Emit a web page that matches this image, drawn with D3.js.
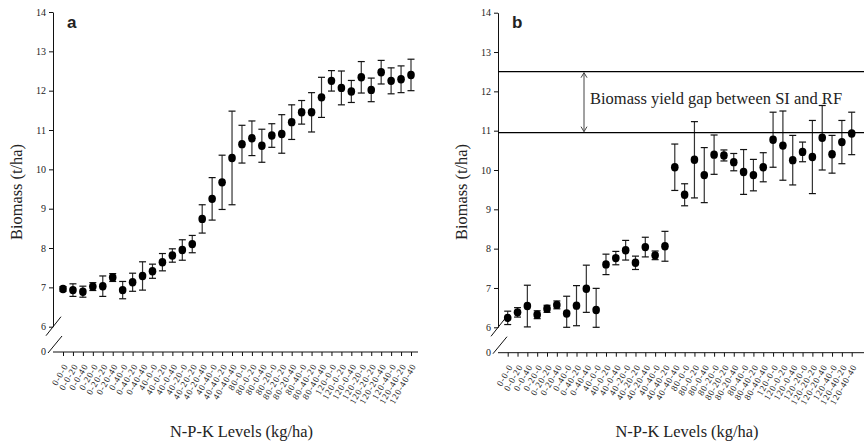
<!DOCTYPE html>
<html>
<head>
<meta charset="utf-8">
<script src="https://cdn.jsdelivr.net/npm/d3@7"></script>
<style>
  body { margin: 0; background: #fff; }
  svg { display: block; }
  text { font-family: "Liberation Serif", "Times New Roman", serif; fill: #222; }
</style>
</head>
<body>
<div id="chart"></div>
<script>
const CATEGORIES = ['0-0-0','0-0-20','0-0-40','0-20-0','0-20-20','0-20-40','0-40-0','0-40-20','0-40-40',
  '40-0-0','40-0-20','40-0-40','40-20-0','40-20-20','40-20-40','40-40-0','40-40-20','40-40-40',
  '80-0-0','80-0-20','80-0-40','80-20-0','80-20-20','80-20-40','80-40-0','80-40-20','80-40-40',
  '120-0-0','120-0-20','120-0-40','120-20-0','120-20-20','120-20-40','120-40-0','120-40-20','120-40-40'];

// panel a (means and error)
const biomassA = [6.96, 6.93, 6.89, 7.02, 7.03, 7.25, 6.93, 7.13, 7.29,
  7.41, 7.64, 7.81, 7.95, 8.10, 8.74, 9.25, 9.67, 10.29,
  10.64, 10.79, 10.60, 10.86, 10.90, 11.20, 11.45, 11.45, 11.83,
  12.25, 12.07, 11.98, 12.34, 12.02, 12.47, 12.25, 12.29, 12.40];
const errA = [0.06, 0.16, 0.14, 0.10, 0.26, 0.10, 0.22, 0.23, 0.36,
  0.18, 0.22, 0.17, 0.26, 0.22, 0.36, 0.54, 0.69, 1.19,
  0.48, 0.44, 0.42, 0.30, 0.49, 0.44, 0.30, 0.50, 0.51,
  0.26, 0.43, 0.28, 0.40, 0.30, 0.30, 0.33, 0.34, 0.40];

// panel b
const biomassB = [6.24, 6.38, 6.54, 6.32, 6.47, 6.57, 6.35, 6.55, 6.98,
  6.44, 7.60, 7.76, 7.96, 7.64, 8.04, 7.83, 8.06, 10.07,
  9.37, 10.26, 9.87, 10.39, 10.37, 10.20, 9.95, 9.87, 10.07,
  10.77, 10.62, 10.25, 10.46, 10.33, 10.82, 10.40, 10.71, 10.93];
const errB = [0.17, 0.12, 0.53, 0.10, 0.09, 0.10, 0.44, 0.51, 0.60,
  0.55, 0.26, 0.17, 0.25, 0.17, 0.25, 0.11, 0.38, 0.59,
  0.28, 0.97, 0.70, 0.50, 0.14, 0.22, 0.57, 0.40, 0.37,
  0.70, 0.88, 0.63, 0.25, 0.93, 0.82, 0.48, 0.55, 0.54];

const Y_TICKS = [6, 7, 8, 9, 10, 11, 12, 13, 14];
const GAP_LINES = [12.5, 10.95];   // SI and RF reference levels in panel b
const GAP_LABEL = 'Biomass yield gap between SI and RF';

const SERIF = '"Liberation Serif", "Times New Roman", serif';

var svg = d3.select('#chart').append('svg')
  .attr('width', 864)
  .attr('height', 443);

function drawPanel(p) {
  var g = svg.append('g');

  var y = d3.scaleLinear().domain([6, 14]).range([p.y6, p.y14]);
  var x = d3.scalePoint().domain(CATEGORIES).range([p.x0, p.x1]);

  // y axis (broken at 6)
  var yAxis = g.append('g')
    .attr('transform', 'translate(' + p.axisX + ',0)')
    .call(d3.axisLeft(y).tickValues(Y_TICKS).tickSize(4).tickSizeOuter(0).tickPadding(3));
  yAxis.select('.domain').attr('stroke', '#111');
  yAxis.selectAll('.tick line').attr('stroke', '#111');
  yAxis.selectAll('.tick text')
    .style('font-family', SERIF)
    .style('font-size', '10px')
    .attr('fill', '#333');

  // zero label and break marks
  g.append('text')
    .attr('x', p.axisX - 7)
    .attr('y', p.baseY)
    .attr('dy', '0.32em')
    .attr('text-anchor', 'end')
    .style('font-family', SERIF)
    .style('font-size', '10px')
    .attr('fill', '#333')
    .text('0');
  g.append('line')
    .attr('x1', p.axisX - 7).attr('y1', y(6) + 9)
    .attr('x2', p.axisX + 8).attr('y2', y(6) - 10)
    .attr('stroke', '#111');
  g.append('line')
    .attr('x1', p.axisX - 5).attr('y1', p.baseY + 1)
    .attr('x2', p.axisX + 9).attr('y2', p.baseY - 16)
    .attr('stroke', '#111');

  // x axis
  g.append('line')
    .attr('x1', p.axisX).attr('x2', p.axisEnd)
    .attr('y1', p.baseY).attr('y2', p.baseY)
    .attr('stroke', '#111');
  var xAxis = g.append('g')
    .attr('transform', 'translate(0,' + p.baseY + ')')
    .call(d3.axisBottom(x).tickSize(4).tickSizeOuter(0));
  xAxis.select('.domain').remove();
  xAxis.selectAll('.tick line').attr('stroke', '#111');
  xAxis.selectAll('.tick text')
    .style('font-family', SERIF)
    .style('font-size', '9px')
    .style('letter-spacing', '0.8px')
    .attr('fill', '#444')
    .attr('text-anchor', 'end')
    .attr('y', 0)
    .attr('dy', 0)
    .attr('transform', 'translate(5,14) rotate(-60)');

  // titles
  g.append('text')
    .attr('x', (p.axisX + p.axisEnd) / 2 + 6)
    .attr('y', 437)
    .attr('text-anchor', 'middle')
    .style('font-family', SERIF)
    .style('font-size', '16.4px')
    .text('N-P-K Levels (kg/ha)');
  g.append('text')
    .attr('transform', 'translate(' + (p.axisX - 31) + ',' + 192 + ') rotate(-90)')
    .attr('text-anchor', 'middle')
    .style('font-family', SERIF)
    .style('font-size', '16.4px')
    .text('Biomass (t/ha)');
  g.append('text')
    .attr('x', p.axisX + 14)
    .attr('y', 28)
    .style('font-family', 'Arial, "Liberation Sans", sans-serif')
    .style('font-weight', 'bold')
    .style('font-size', '17px')
    .attr('fill', '#000')
    .text(p.label);

  // error bars
  var data = p.mean.map(function(m, i) { return {cat: CATEGORIES[i], m: m, e: p.err[i]}; });
  var bars = g.selectAll('.eb').data(data).enter().append('g');
  bars.append('line')
    .attr('x1', function(d) { return x(d.cat); })
    .attr('x2', function(d) { return x(d.cat); })
    .attr('y1', function(d) { return y(d.m + d.e); })
    .attr('y2', function(d) { return y(Math.max(d.m - d.e, 6)); })
    .attr('stroke', '#333').attr('stroke-width', 1.2);
  bars.append('line')
    .attr('x1', function(d) { return x(d.cat) - 3.5; })
    .attr('x2', function(d) { return x(d.cat) + 3.5; })
    .attr('y1', function(d) { return y(d.m + d.e); })
    .attr('y2', function(d) { return y(d.m + d.e); })
    .attr('stroke', '#111').attr('stroke-width', 1.2);
  bars.append('line')
    .attr('x1', function(d) { return x(d.cat) - 3.5; })
    .attr('x2', function(d) { return x(d.cat) + 3.5; })
    .attr('y1', function(d) { return y(Math.max(d.m - d.e, 6)); })
    .attr('y2', function(d) { return y(Math.max(d.m - d.e, 6)); })
    .attr('stroke', '#111').attr('stroke-width', 1.2);

  // points
  g.selectAll('.pt').data(data).enter().append('ellipse')
    .attr('cx', function(d) { return x(d.cat); })
    .attr('cy', function(d) { return y(d.m); })
    .attr('rx', 3.8).attr('ry', 4.2)
    .attr('fill', '#000');

  return {g: g, x: x, y: y};
}

var pa = drawPanel({label: 'a', axisX: 53, axisEnd: 418, x0: 63, x1: 411,
  y14: 12, y6: 326.7, baseY: 352, mean: biomassA, err: errA});
var pb = drawPanel({label: 'b', axisX: 498, axisEnd: 864, x0: 507.7, x1: 851.7,
  y14: 12.7, y6: 327.3, baseY: 352.7, mean: biomassB, err: errB});

// yield gap annotation on panel b
pb.g.selectAll('.gap').data(GAP_LINES).enter().append('line')
  .attr('x1', 498).attr('x2', 864)
  .attr('y1', function(d) { return pb.y(d); })
  .attr('y2', function(d) { return pb.y(d); })
  .attr('stroke', '#000').attr('stroke-width', 1.3);

var ax = 584, yTop = pb.y(GAP_LINES[0]), yBot = pb.y(GAP_LINES[1]);
pb.g.append('line')
  .attr('x1', ax).attr('x2', ax)
  .attr('y1', yTop + 1).attr('y2', yBot - 1)
  .attr('stroke', '#444').attr('stroke-width', 1);
pb.g.append('path')
  .attr('d', 'M' + (ax - 3) + ',' + (yTop + 6) + 'L' + ax + ',' + (yTop + 1) + 'L' + (ax + 3) + ',' + (yTop + 6))
  .attr('fill', 'none').attr('stroke', '#444');
pb.g.append('path')
  .attr('d', 'M' + (ax - 3) + ',' + (yBot - 6) + 'L' + ax + ',' + (yBot - 1) + 'L' + (ax + 3) + ',' + (yBot - 6))
  .attr('fill', 'none').attr('stroke', '#444');
pb.g.append('text')
  .attr('x', 590)
  .attr('y', 104)
  .style('font-family', SERIF)
  .style('font-size', '16.5px')
  .text(GAP_LABEL);
</script>
</body>
</html>
